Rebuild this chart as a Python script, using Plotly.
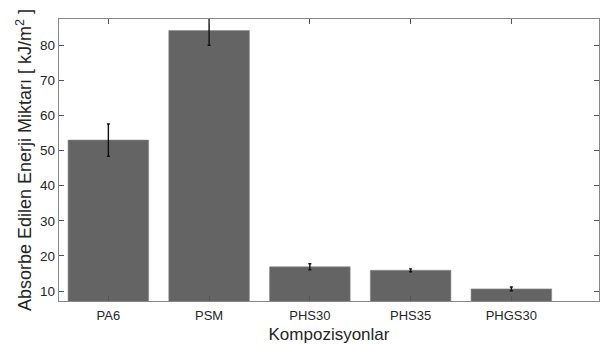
import plotly.graph_objects as go

categories = ["PA6", "PSM", "PHS30", "PHS35", "PHGS30"]
values = [53.0, 84.2, 16.9, 15.9, 10.6]
errors = [4.6, 4.2, 0.85, 0.4, 0.55]
y_ticks = [10, 20, 30, 40, 50, 60, 70, 80]

fig = go.Figure()
fig.add_trace(go.Bar(
    x=list(range(len(categories))), y=values,
    width=0.8,
    marker=dict(color="#646464", line=dict(color="#8a8a8a", width=0.6)),
    error_y=dict(type="data", array=errors, color="#111111", thickness=1.4, width=1.5),
))

font = "Liberation Sans, Arial, sans-serif"
fig.update_layout(
    width=600, height=344,
    margin=dict(l=59, r=1, t=19, b=43, autoexpand=False),
    paper_bgcolor="white", plot_bgcolor="white",
    showlegend=False,
    font=dict(family=font, color="#262626", size=12),
)
fig.update_xaxes(
    range=[-0.49, 4.87],
    tickmode="array", tickvals=list(range(len(categories))), ticktext=categories,
    ticks="inside", ticklen=5, tickcolor="#555555", tickwidth=1,
    showline=True, linecolor="#888888", linewidth=1.3, mirror="ticks",
    showgrid=False, zeroline=False,
    tickfont=dict(size=13, color="#262626"),
    ticklabelstandoff=2,
    title=dict(text="Kompozisyonlar", font=dict(size=17, color="#262626"), standoff=6),
)
fig.update_yaxes(
    range=[7.15, 87.5],
    tickmode="array", tickvals=y_ticks,
    ticks="inside", ticklen=5, tickcolor="#555555", tickwidth=1,
    showline=True, linecolor="#888888", linewidth=1.3, mirror="ticks",
    showgrid=False, zeroline=False,
    tickfont=dict(size=13.5, color="#262626"),
    title=dict(text="Absorbe Edilen Enerji Miktarı [ kJ/m<sup>2</sup> ]",
               font=dict(size=18, color="#262626"), standoff=3),
)

fig.write_html("out.html", config={"displayModeBar": False},
               post_script="document.body.style.margin='0';document.body.style.padding='0';")
